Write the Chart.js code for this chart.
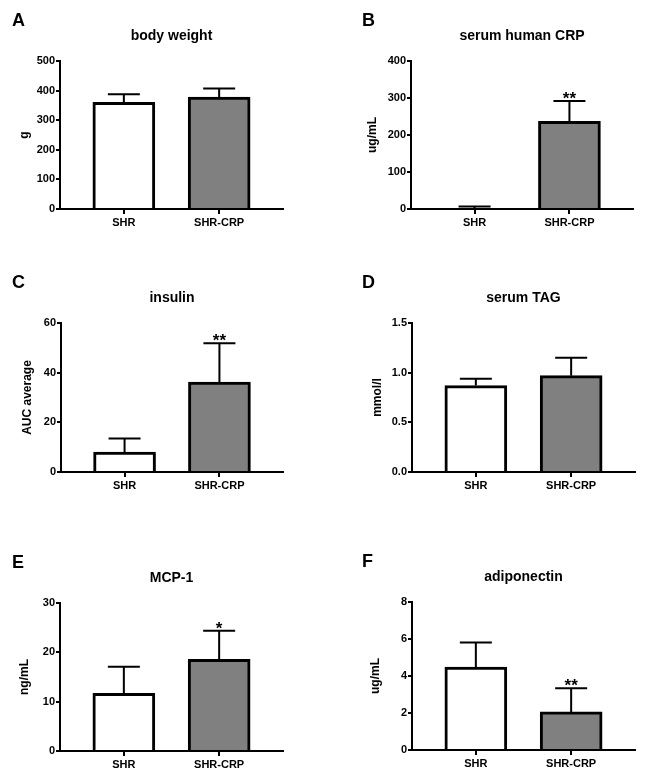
<!DOCTYPE html>
<html>
<head>
<meta charset="utf-8">
<script src="https://cdn.jsdelivr.net/npm/chart.js@4.4.0/dist/chart.umd.min.js"></script>
<style>
  html, body { margin: 0; padding: 0; background: #fff; overflow: hidden; }
  #page { position: relative; width: 669px; height: 780px; }
  .panel { position: absolute; width: 334px; height: 260px; }
</style>
</head>
<body>
<div id="page"></div>
<script>
// 数据
const groups = ['SHR', 'SHR-CRP'];
const letters = ['A', 'B', 'C', 'D', 'E', 'F'];
const titles = ['body weight', 'serum human CRP', 'insulin', 'serum TAG', 'MCP-1', 'adiponectin'];
const yTitles = ['g', 'ug/mL', 'AUC average', 'mmol/l', 'ng/mL', 'ug/mL'];
const yMax = [500, 400, 60, 1.5, 30, 8];
const yStep = [100, 100, 20, 0.5, 10, 2];
const means = [[360, 378], [0, 237], [8.0, 36.2], [0.87, 0.97], [11.7, 18.6], [4.48, 2.06]];
const errors = [[28, 29], [7, 55], [5.5, 15.6], [0.07, 0.18], [5.4, 5.8], [1.33, 1.28]];
const stars = [['', ''], ['', '**'], ['', '**'], ['', ''], ['', '*'], ['', '**']];

// 布局（每个小图的画布位置与绘图区）
const W = 334, H = 260, X_H = 30;
const frames = [
    { px: 0,   py: 0,   left: 60, right: 283, top: 61, bottom: 209, yTitleX: 25 },
    { px: 335, py: 0,   left: 76, right: 298, top: 61, bottom: 209, yTitleX: 37.5 },
    { px: 0,   py: 260, left: 61, right: 283, top: 63, bottom: 212, yTitleX: 28 },
    { px: 335, py: 260, left: 77, right: 300, top: 63, bottom: 212, yTitleX: 42.5 },
    { px: 0,   py: 520, left: 60, right: 283, top: 83, bottom: 231, yTitleX: 25 },
    { px: 335, py: 520, left: 77, right: 300, top: 82, bottom: 230, yTitleX: 40.5 }
];
const FONT = '"Liberation Sans", Arial, sans-serif';
const fills = ['#ffffff', '#808080'];

// 误差线、星号、标题
const decorPlugin = {
    id: 'decor',
    afterDatasetsDraw(chart, args, opts) {
        const ctx = chart.ctx;
        const meta = chart.getDatasetMeta(0);
        const yScale = chart.scales.y;
        ctx.save();
        ctx.strokeStyle = '#000';
        ctx.lineWidth = 2;
        meta.data.forEach((bar, i) => {
            const m = opts.means[i], e = opts.errors[i];
            const y0 = yScale.getPixelForValue(m);
            const y1 = yScale.getPixelForValue(m + e);
            ctx.beginPath();
            ctx.moveTo(bar.x, y0);
            ctx.lineTo(bar.x, y1);
            ctx.moveTo(bar.x - 16, y1);
            ctx.lineTo(bar.x + 16, y1);
            ctx.stroke();
            if (opts.stars[i]) {
                ctx.fillStyle = '#000';
                ctx.font = 'bold 17px ' + FONT;
                ctx.textAlign = 'center';
                ctx.textBaseline = 'alphabetic';
                ctx.fillText(opts.stars[i], bar.x, y1 + 3);
            }
        });
        ctx.restore();
    },
    afterDraw(chart, args, opts) {
        const ctx = chart.ctx;
        const area = chart.chartArea;
        ctx.save();
        ctx.fillStyle = '#000';
        ctx.textBaseline = 'alphabetic';
        ctx.font = 'bold 18px ' + FONT;
        ctx.textAlign = 'left';
        ctx.fillText(opts.letter, opts.letterX, area.top - 35.5);
        ctx.font = 'bold 14px ' + FONT;
        ctx.textAlign = 'center';
        ctx.fillText(opts.title, (area.left + area.right) / 2, area.top - 21);
        ctx.restore();
    }
};

function makePanel(k) {
    const f = frames[k];
    const div = document.createElement('div');
    div.className = 'panel';
    div.style.left = f.px + 'px';
    div.style.top = f.py + 'px';
    const canvas = document.createElement('canvas');
    canvas.width = W;
    canvas.height = H;
    div.appendChild(canvas);
    document.getElementById('page').appendChild(div);

    const padLeft = f.yTitleX - 12 * 1.2 / 2;
    const points = groups.map((g, i) => ({ x: i + 1, y: means[k][i] }));

    new Chart(canvas.getContext('2d'), {
        type: 'bar',
        data: {
            datasets: [{
                data: points,
                backgroundColor: fills,
                borderColor: '#000',
                borderWidth: 3,
                borderSkipped: 'start',
                barThickness: 62
            }]
        },
        options: {
            responsive: false,
            animation: false,
            layout: {
                padding: { left: padLeft, top: f.top, right: W - f.right, bottom: H - f.bottom - X_H }
            },
            scales: {
                x: {
                    type: 'linear',
                    z: 1,
                    min: 0.33,
                    max: 2.67,
                    offset: false,
                    afterBuildTicks: s => { s.ticks = groups.map((g, i) => ({ value: i + 1 })); },
                    afterFit: s => { s.height = X_H; },
                    ticks: {
                        callback: v => groups[v - 1],
                        color: '#000',
                        padding: 2,
                        maxRotation: 0,
                        autoSkip: false,
                        font: { family: FONT, size: 11, weight: 'bold' }
                    },
                    grid: { display: true, offset: false, drawOnChartArea: false, drawTicks: true, tickLength: 5, color: '#000', lineWidth: 2 },
                    border: { display: true, color: '#000', width: 2 }
                },
                y: {
                    min: 0,
                    max: yMax[k],
                    afterFit: s => { s.width = f.left - padLeft; },
                    ticks: {
                        stepSize: yStep[k],
                        callback: v => (yStep[k] < 1 ? v.toFixed(1) : v),
                        color: '#000',
                        padding: 1,
                        font: { family: FONT, size: 11, weight: 'bold' }
                    },
                    grid: { display: true, drawOnChartArea: false, drawTicks: true, tickLength: 4, color: '#000', lineWidth: 2 },
                    border: { display: true, color: '#000', width: 2 },
                    title: {
                        display: true,
                        text: yTitles[k],
                        color: '#000',
                        padding: 0,
                        font: { family: FONT, size: 12, weight: 'bold' }
                    }
                }
            },
            plugins: {
                legend: { display: false },
                tooltip: { enabled: false },
                decor: {
                    means: means[k],
                    errors: errors[k],
                    stars: stars[k],
                    letter: letters[k],
                    letterX: f.px ? 27 : 12,
                    title: titles[k]
                }
            }
        },
        plugins: [decorPlugin]
    });
}

for (let k = 0; k < 6; k++) makePanel(k);
</script>
</body>
</html>
